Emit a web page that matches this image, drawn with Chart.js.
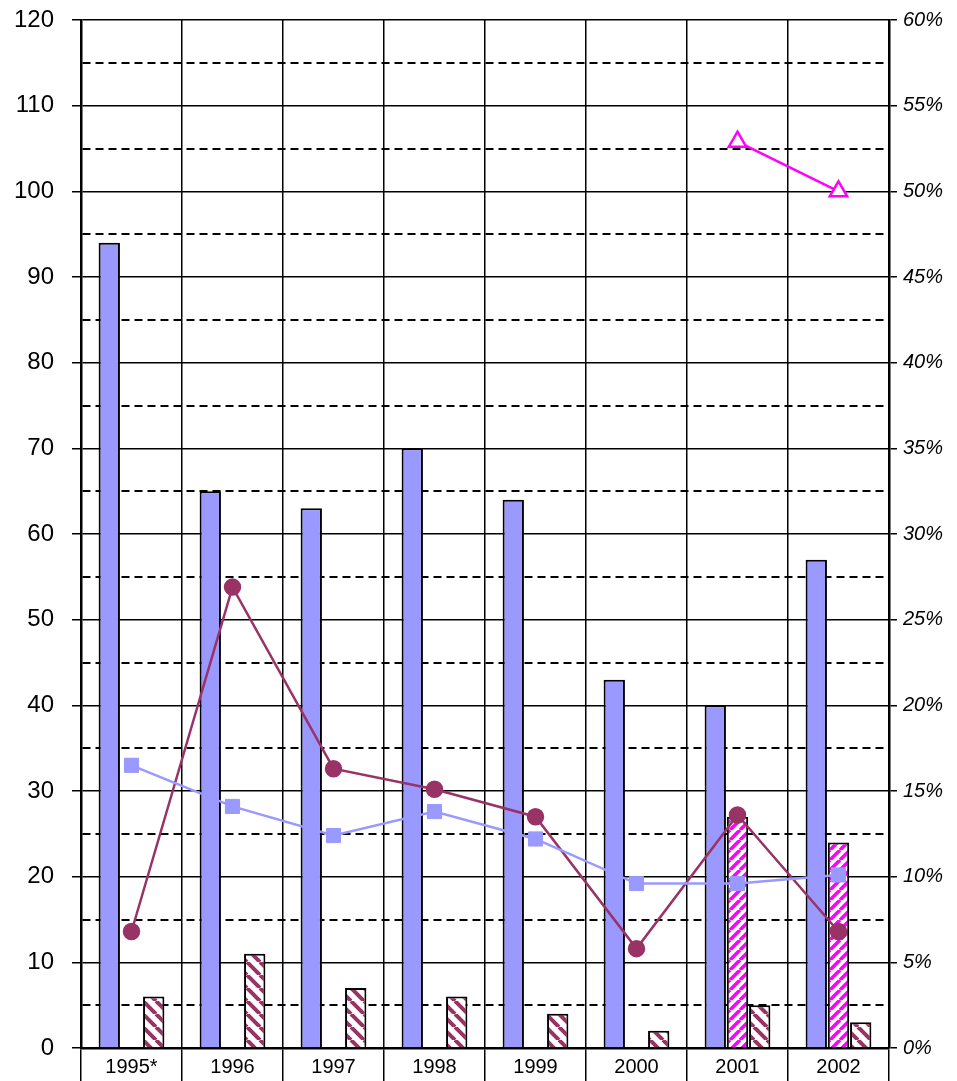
<!DOCTYPE html>
<html>
<head>
<meta charset="utf-8">
<script src="https://cdn.jsdelivr.net/npm/chart.js@4/dist/chart.umd.min.js"></script>
<style>
  body { margin: 0; background: #fff; }
  #wrap { width: 957px; height: 1081px; }
</style>
</head>
<body>
<div id="wrap"><canvas id="chart" width="957" height="1081"></canvas></div>
<script>
const years = ['1995*', '1996', '1997', '1998', '1999', '2000', '2001', '2002'];
// bars, left axis
const blueBars = [94, 65, 63, 70, 64, 43, 40, 57];
const magentaBars = [null, null, null, null, null, null, 27, 24];
const maroonBars = [6, 11, 7, 6, 4, 2, 5, 3];
// lines, right axis (%)
const squareLine = [16.5, 14.1, 12.4, 13.8, 12.2, 9.6, 9.6, 10.1];
const circleLine = [6.8, 26.9, 16.3, 15.1, 13.5, 5.8, 13.6, 6.8];
const triangleLine = [null, null, null, null, null, null, 52.9, 50.0];

function hatch(color, size, width, back) {
    const c = document.createElement('canvas');
    c.width = c.height = size;
    const g = c.getContext('2d');
    g.fillStyle = '#fff';
    g.fillRect(0, 0, size, size);
    g.strokeStyle = color;
    g.lineWidth = width;
    g.beginPath();
    for (let k = -1; k <= 1; k++) {
        if (back) { g.moveTo(k * size, 0); g.lineTo(k * size + size, size); }
        else { g.moveTo(k * size, size); g.lineTo(k * size + size, 0); }
    }
    g.stroke();
    return g.createPattern(c, 'repeat');
}

const ctx = document.getElementById('chart').getContext('2d');
const maroonHatch = hatch('#993366', 13, 4, true);
const magentaHatch = hatch('#ff00ff', 10, 3.6, false);

const isMinor = c => c.tick && c.tick.value % 10 !== 0;

const chart = new Chart(ctx, {
    type: 'bar',
    data: {
        labels: years,
        datasets: [
            { type: 'line', data: squareLine, yAxisID: 'y2', order: 1,
              borderColor: '#9999ff', borderWidth: 2.5, backgroundColor: '#9999ff',
              pointStyle: 'rect', pointRadius: 10, pointBorderColor: '#9999ff', pointBorderWidth: 1 },
            { type: 'line', data: circleLine, yAxisID: 'y2', order: 1,
              borderColor: '#993366', borderWidth: 2.5, backgroundColor: '#993366',
              pointStyle: 'circle', pointRadius: 7.5, pointBorderColor: '#993366' },
            { type: 'line', data: triangleLine, yAxisID: 'y2', order: 1,
              borderColor: '#ff00ff', borderWidth: 2.5, backgroundColor: '#fff',
              pointStyle: 'triangle', pointRadius: 10, pointBorderColor: '#ff00ff', pointBorderWidth: 2.5 },
            { data: blueBars, yAxisID: 'y', order: 2, backgroundColor: '#9999ff',
              borderColor: '#000', borderWidth: 2 },
            { data: magentaBars, yAxisID: 'y', order: 2, backgroundColor: magentaHatch,
              borderColor: '#000', borderWidth: 2 },
            { data: maroonBars, yAxisID: 'y', order: 2, backgroundColor: maroonHatch,
              borderColor: '#000', borderWidth: 2 }
        ]
    },
    options: {
        responsive: false,
        animation: false,
        layout: { padding: { top: 20, bottom: 0, left: 0, right: 0 } },
        datasets: { bar: { categoryPercentage: 0.66, barPercentage: 0.96 } },
        plugins: { legend: { display: false }, tooltip: { enabled: false } },
        scales: {
            x: {
                offset: true,
                grid: { offset: true, color: '#000', lineWidth: 1.5, tickLength: 33 },
                border: { color: '#000', width: 2.5 },
                ticks: { color: '#000', padding: -26, font: { family: 'Liberation Sans', size: 20 } },
                afterFit: s => { s.height = 33; s.paddingLeft = 0; s.paddingRight = 0; }
            },
            y: {
                position: 'left',
                min: 0, max: 120,
                ticks: {
                    stepSize: 5, color: '#000', padding: 18,
                    font: { family: 'Liberation Sans', size: 24 },
                    callback: v => v % 10 === 0 ? v : ''
                },
                grid: {
                    color: '#000', tickLength: 9,
                    lineWidth: c => isMinor(c) ? 2 : 1.5,
                    tickColor: c => isMinor(c) ? 'rgba(0,0,0,0)' : '#000'
                },
                border: { color: '#000', width: 2.5, dash: c => isMinor(c) ? [8, 5] : [] },
                afterFit: s => { s.width = 81; s.paddingTop = 0; s.paddingBottom = 0; }
            },
            y2: {
                position: 'right',
                min: 0, max: 60,
                ticks: {
                    stepSize: 5, color: '#000', padding: 6,
                    font: { family: 'Liberation Sans', size: 20, style: 'italic' },
                    callback: v => v + '%'
                },
                grid: { drawOnChartArea: false, color: '#000', lineWidth: 1.5, tickLength: 8 },
                border: { color: '#000', width: 2.5 },
                afterFit: s => { s.width = 68; s.paddingTop = 0; s.paddingBottom = 0; }
            }
        }
    }
});
</script>
</body>
</html>
